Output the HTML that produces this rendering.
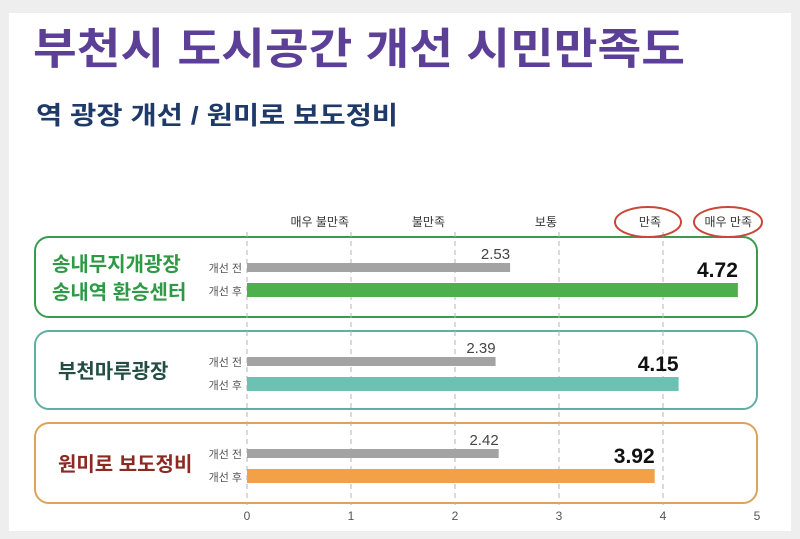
<!DOCTYPE html>
<html><head><meta charset="utf-8">
<style>
html,body{margin:0;padding:0;background:#eeeeee;}
svg{display:block;font-family:"Liberation Sans","Noto Sans CJK KR",sans-serif;}
</style></head>
<body>
<svg id="chart" width="800" height="539" viewBox="0 0 800 539" xmlns="http://www.w3.org/2000/svg">
<rect x="9" y="13" width="782" height="518" fill="#ffffff"/>
<text x="33" y="64" font-size="43" font-weight="bold" fill="#5c3f96" textLength="652" lengthAdjust="spacingAndGlyphs">부천시 도시공간 개선 시민만족도</text>
<text x="36" y="124" font-size="25" font-weight="bold" fill="#1f3a68" textLength="362" lengthAdjust="spacingAndGlyphs">역 광장 개선 / 원미로 보도정비</text>
<g id="boxes"></g>
<g id="grid"></g>
<g id="marks"></g>
<g id="ticks"></g>
<ellipse cx="648" cy="222" rx="33" ry="15" fill="none" stroke="#c8473a" stroke-width="2"/>
<ellipse cx="728" cy="222" rx="34" ry="15" fill="none" stroke="#c8473a" stroke-width="2"/>
</svg>
<script>
const categories = ["송내무지개광장|송내역 환승센터", "부천마루광장", "원미로 보도정비"];
const beforeValues = [2.53, 2.39, 2.42];
const afterValues = [4.72, 4.15, 3.92];
const tickLabels = ["0", "1", "2", "3", "4", "5"];
const levelLabels = ["매우 불만족", "불만족", "보통", "만족", "매우 만족"];

const NS = "http://www.w3.org/2000/svg";
const x0 = 247, unit = 104;
function xs(v){ return x0 + v*unit; }
function mk(tag, attrs, parent, txt){
  const e = document.createElementNS(NS, tag);
  for (const k in attrs) e.setAttribute(k, attrs[k]);
  if (txt !== undefined) e.textContent = txt;
  parent.appendChild(e); return e;
}
const grid = document.getElementById("grid");
const boxes = document.getElementById("boxes");
const marks = document.getElementById("marks");
const ticks = document.getElementById("ticks");

const boxY = [237, 331, 423];
const boxH = [80, 78, 80];
const boxColors = ["#3a9a4e", "#5fb0a2", "#dba45a"];
const barColors = ["#4db04c", "#6cc2b2", "#f2a148"];
const nameColors = ["#2f9a45", "#244e44", "#8a2a22"];

tickLabels.forEach((t, i) => {
  if (i === 5) return;
  const l = mk("line", {x1: xs(i), x2: xs(i), y1: 232, y2: 505, stroke: "#b5b5b5", "stroke-width": 1, "stroke-dasharray": "5,4"}, grid);
  
  
});
tickLabels.forEach((t, i) => {
  const tx = mk("text", {x: i === 5 ? 757 : xs(i), y: 520, "font-size": 12, fill: "#555", "text-anchor": "middle"}, ticks, t);
  
  
});
levelLabels.forEach((t, i) => {
  const tx = mk("text", {x: i === 4 ? 752 : xs(i + 1) - 2 - (i === 1 ? 8 : 0), y: 226, "font-size": 12, fill: "#333", "text-anchor": "end"}, ticks, t);
  
  
});

categories.forEach((c, i) => {
  const y = boxY[i];
  const r = mk("rect", {x: 35, y: y, width: 722, height: boxH[i], rx: 14, fill: "#fff", stroke: boxColors[i], "stroke-width": 2}, boxes);
  
  
  const parts = c.split("|");
  const cy = y + boxH[i]/2;
  parts.forEach((p, j) => {
    const ty = parts.length === 1 ? cy + 8 : cy - 6 + j*28;
    const tx = mk("text", {x: parts.length === 1 ? 58 : 52, y: ty, "font-size": 20, "font-weight": "bold", fill: nameColors[i]}, marks, p);
    
    
  });
  const gy = y + 26, ay = y + 46;
  const l1 = mk("text", {x: 242, y: gy + 9, "font-size": 11, fill: "#555", "text-anchor": "end"}, marks, "개선 전");
  
  
  const l2 = mk("text", {x: 242, y: ay + 12, "font-size": 11, fill: "#555", "text-anchor": "end"}, marks, "개선 후");
  
  
  const b1 = mk("rect", {x: x0, y: gy, width: xs(beforeValues[i]) - x0, height: 9, fill: "#a3a3a3"}, marks);
  
  
  const b2 = mk("rect", {x: x0, y: ay, width: xs(afterValues[i]) - x0, height: 14, fill: barColors[i]}, marks);
  
  
  const v1 = mk("text", {x: xs(beforeValues[i]), y: gy - 4, "font-size": 15, fill: "#444", "text-anchor": "end"}, marks, beforeValues[i].toFixed(2));
  
  
  const v2 = mk("text", {x: xs(afterValues[i]), y: ay - 6, "font-size": 21, "font-weight": "bold", fill: "#111", "text-anchor": "end"}, marks, afterValues[i].toFixed(2));
  
  
});
</script>
</body></html>
